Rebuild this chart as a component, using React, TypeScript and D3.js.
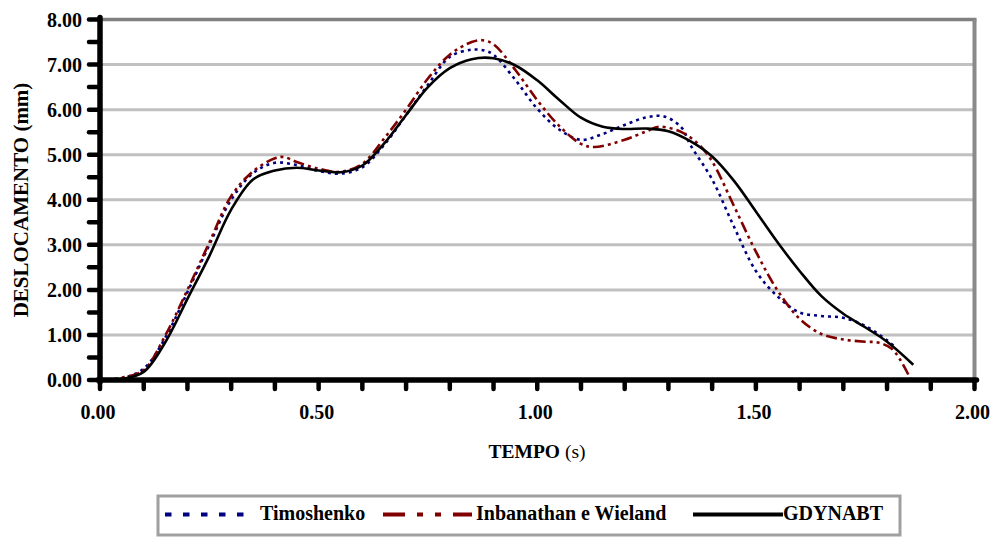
import React from "react";
import * as d3 from "d3";

// Displacement histories (time in s, displacement in mm)
const timoTime = [0, 0.05, 0.10, 0.15, 0.20, 0.25, 0.30, 0.35, 0.40, 0.45, 0.50, 0.55, 0.60, 0.65, 0.70, 0.75, 0.80, 0.85, 0.88, 0.90, 0.95, 1.00, 1.05, 1.10, 1.15, 1.20, 1.25, 1.29, 1.33, 1.35, 1.40, 1.45, 1.50, 1.55, 1.60, 1.65, 1.70, 1.75, 1.80, 1.82];
const timoDisp = [0, 0.04, 0.25, 0.95, 1.95, 3.0, 4.0, 4.59, 4.82, 4.77, 4.64, 4.58, 4.72, 5.22, 5.88, 6.55, 7.17, 7.33, 7.31, 7.22, 6.66, 6.02, 5.56, 5.33, 5.46, 5.66, 5.83, 5.85, 5.6, 5.22, 4.45, 3.4, 2.42, 1.85, 1.5, 1.42, 1.38, 1.2, 0.88, 0.72];

const inbaTime = [0, 0.05, 0.10, 0.15, 0.20, 0.25, 0.30, 0.35, 0.40, 0.42, 0.45, 0.50, 0.55, 0.60, 0.65, 0.70, 0.75, 0.80, 0.85, 0.875, 0.90, 0.95, 1.00, 1.05, 1.10, 1.13, 1.20, 1.25, 1.28, 1.33, 1.37, 1.40, 1.45, 1.50, 1.55, 1.60, 1.65, 1.70, 1.75, 1.78, 1.81, 1.83, 1.855];
const inbaDisp = [0, 0.05, 0.22, 1.0, 2.0, 3.05, 4.08, 4.63, 4.92, 4.95, 4.84, 4.69, 4.62, 4.8, 5.36, 6.0, 6.69, 7.22, 7.5, 7.54, 7.45, 6.88, 6.21, 5.64, 5.24, 5.17, 5.33, 5.52, 5.62, 5.5, 5.22, 4.85, 3.86, 2.85, 1.98, 1.36, 1.02, 0.9, 0.85, 0.83, 0.7, 0.45, 0.0];

const gdynTime = [0, 0.05, 0.10, 0.15, 0.20, 0.25, 0.30, 0.35, 0.40, 0.45, 0.50, 0.55, 0.60, 0.65, 0.70, 0.75, 0.80, 0.85, 0.90, 0.95, 1.00, 1.05, 1.10, 1.15, 1.20, 1.25, 1.30, 1.35, 1.40, 1.45, 1.50, 1.55, 1.60, 1.65, 1.70, 1.75, 1.80, 1.86];
const gdynDisp = [0, 0.02, 0.18, 0.85, 1.80, 2.75, 3.78, 4.45, 4.65, 4.71, 4.65, 4.61, 4.76, 5.25, 5.88, 6.50, 6.92, 7.12, 7.14, 6.98, 6.65, 6.22, 5.82, 5.62, 5.57, 5.58, 5.52, 5.30, 4.96, 4.42, 3.74, 3.05, 2.42, 1.86, 1.47, 1.17, 0.85, 0.34];

const seriesNames = ["Timoshenko", "Inbanathan e Wieland", "GDYNABT"];
const xTickValues = [0, 0.5, 1.0, 1.5, 2.0];
const yTickValues = [0, 1, 2, 3, 4, 5, 6, 7, 8];

const FONT = "'Liberation Serif', 'Times New Roman', serif";

export default function App() {
  const W = 996;
  const H = 538;
  const left = 100;
  const right = 974.5;
  const top = 19.5;
  const bottom = 380;

  const x = d3.scaleLinear().domain([0, 2]).range([left, right]);
  const y = d3.scaleLinear().domain([0, 8]).range([bottom, top]);

  const line = d3
    .line<[number, number]>()
    .x((d) => x(d[0]))
    .y((d) => y(d[1]))
    .curve(d3.curveCatmullRom.alpha(0.5));

  const zip = (t: number[], v: number[]) => t.map((ti, i) => [ti, v[i]] as [number, number]);

  const series = [
    { name: seriesNames[0], data: zip(timoTime, timoDisp), color: "#000080", dash: "3,4", width: 2.6 },
    { name: seriesNames[1], data: zip(inbaTime, inbaDisp), color: "#800000", dash: "11,4,3,4,3,4", width: 2.6 },
    { name: seriesNames[2], data: zip(gdynTime, gdynDisp), color: "#000000", dash: "none", width: 2.6 },
  ];

  const minorX = d3.range(0, 2.0001, 0.1);
  const minorY = d3.range(0, 8.0001, 0.5);

  // legend layout
  const legendItems = [
    { x1: 165, x2: 245, tx: 260, color: "#000080", dash: "6.5,11.5" },
    { x1: 383, x2: 472, tx: 476, color: "#800000", dash: "22,12,6,12,6,12" },
    { x1: 693, x2: 783, tx: 783, color: "#000000", dash: "none" },
  ];

  return (
    <svg
      width={W}
      height={H}
      style={{ position: "absolute", left: 0, top: 0, background: "#fff" }}
      fontFamily={FONT}
    >
      <rect x={0} y={0} width={W} height={H} fill="#fff" />

      {/* horizontal gridlines */}
      {yTickValues.slice(1, -1).map((v) => (
        <line key={"g" + v} x1={left} x2={right} y1={y(v)} y2={y(v)} stroke="#c0c0c0" strokeWidth={3} />
      ))}
      {/* plot frame (top and right) */}
      <line x1={left} x2={right + 2} y1={y(8)} y2={y(8)} stroke="#808080" strokeWidth={3.5} />
      <line x1={right} x2={right} y1={y(8)} y2={bottom} stroke="#8a8a8a" strokeWidth={4} />

      {/* data series */}
      {series.map((s) => (
        <path
          key={s.name}
          d={line(s.data) || ""}
          fill="none"
          stroke={s.color}
          strokeWidth={s.width}
          strokeDasharray={s.dash}
          strokeLinejoin="round"
        />
      ))}

      {/* y axis with ticks */}
      {minorY.map((v) => (
        <line key={"yt" + v} x1={left - 11} x2={left} y1={y(v)} y2={y(v)} stroke="#000" strokeWidth={4.5} strokeLinecap="round" />
      ))}
      <line x1={left} x2={left} y1={top - 2} y2={bottom + 2} stroke="#000" strokeWidth={5.5} strokeLinecap="round" />

      {/* x axis with ticks */}
      {minorX.map((v) => (
        <line key={"xt" + v} x1={x(v)} x2={x(v)} y1={bottom} y2={bottom + 9} stroke="#000" strokeWidth={4.5} strokeLinecap="round" />
      ))}
      <line x1={left - 2} x2={right + 2} y1={bottom} y2={bottom} stroke="#000" strokeWidth={5.5} strokeLinecap="round" />

      {/* tick labels */}
      {yTickValues.map((v) => (
        <text
          key={"yl" + v}
          x={82}
          y={y(v)}
          dy="0.35em"
          textAnchor="end"
          fontSize={20}
          fontWeight="bold"
          fill="#000"
        >
          {v.toFixed(2)}
        </text>
      ))}
      {xTickValues.map((v) => (
        <text key={"xl" + v} x={x(v) - 2} y={419} textAnchor="middle" fontSize={20} fontWeight="bold" fill="#000">
          {v.toFixed(2)}
        </text>
      ))}

      {/* axis titles */}
      <text x={537} y={458} textAnchor="middle" fontSize={19.5} fill="#000">
        <tspan fontWeight="bold">TEMPO</tspan>
        <tspan> (s)</tspan>
      </text>
      <text
        transform="translate(28,200) rotate(-90)"
        textAnchor="middle"
        fontSize={21}
        fontWeight="bold"
        fill="#000"
      >
        DESLOCAMENTO (mm)
      </text>

      {/* legend */}
      <rect x={158} y={496} width={742} height={39} fill="#fff" stroke="#a0a0a0" strokeWidth={3} />
      {legendItems.map((it, i) => (
        <g key={"lg" + i}>
          <line x1={it.x1} x2={it.x2} y1={514.5} y2={514.5} stroke={it.color} strokeWidth={4} strokeDasharray={it.dash} />
          <text x={it.tx} y={520} fontSize={20} fontWeight="bold" fill="#000">
            {seriesNames[i]}
          </text>
        </g>
      ))}
    </svg>
  );
}
